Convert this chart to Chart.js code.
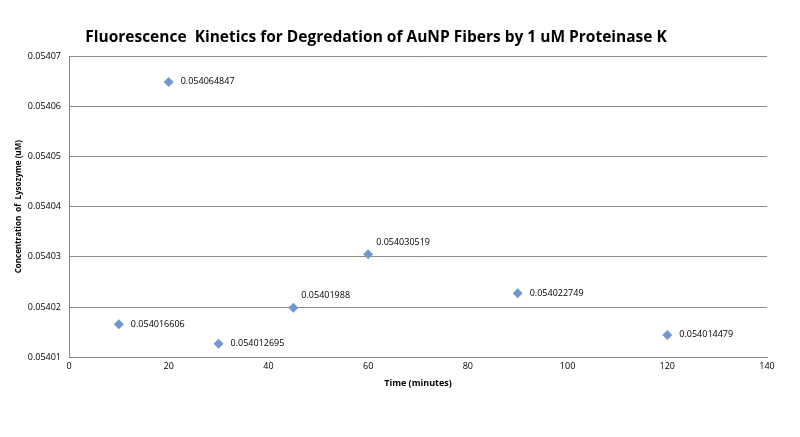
<!DOCTYPE html>
<html>
<head>
<meta charset="utf-8">
<script src="https://cdn.jsdelivr.net/npm/chart.js@4.4.1/dist/chart.umd.min.js"></script>
<style>
  html, body { margin: 0; padding: 0; background: #fff; }
  #wrap { position: relative; width: 800px; height: 437px; }
</style>
</head>
<body>
<div id="wrap"><canvas id="chart"></canvas></div>
<script>
// time points (minutes) and measured concentrations
const times = [10, 20, 30, 45, 60, 90, 120];
const concentrations = [0.054016606, 0.054064847, 0.054012695, 0.05401988, 0.054030519, 0.054022749, 0.054014479];
const labelTexts = ["0.054016606", "0.054064847", "0.054012695", "0.05401988", "0.054030519", "0.054022749", "0.054014479"];
// labels that sit above the point instead of beside it
const labelAbove = [false, false, false, true, true, false, false];
const chartTitle = "Fluorescence  Kinetics for Degredation of AuNP Fibers by 1 uM Proteinase K";

const points = times.map((t, i) => ({ x: t, y: concentrations[i] }));

// title sits a little left of centre, like the original spreadsheet chart
const titlePlugin = {
  id: "titlePlugin",
  afterDraw(chart) {
    const { ctx } = chart;
    ctx.save();
    ctx.font = "bold 15.5px 'Open Sans', sans-serif";
    ctx.fillStyle = "#000";
    ctx.textAlign = "center";
    ctx.textBaseline = "middle";
    ctx.fillText(chartTitle, 376, 38);
    ctx.restore();
  }
};

// draws the value labels next to each diamond
const valueLabels = {
  id: "valueLabels",
  afterDatasetsDraw(chart) {
    const { ctx } = chart;
    const meta = chart.getDatasetMeta(0);
    ctx.save();
    ctx.font = "9px 'Open Sans', sans-serif";
    ctx.fillStyle = "#000";
    ctx.textBaseline = "middle";
    ctx.textAlign = "left";
    meta.data.forEach((pt, i) => {
      if (labelAbove[i]) {
        ctx.fillText(labelTexts[i], pt.x + 8, pt.y - 12);
      } else {
        ctx.fillText(labelTexts[i], pt.x + 12, pt.y);
      }
    });
    ctx.restore();
  }
};

new Chart(document.getElementById("chart"), {
  type: "scatter",
  data: {
    datasets: [{
      data: points,
      pointStyle: "rectRot",
      pointRadius: 5,
      pointHoverRadius: 5,
      backgroundColor: "#7097cf",
      borderColor: "#7097cf",
      borderWidth: 0
    }]
  },
  options: {
    responsive: true,
    maintainAspectRatio: false,
    animation: false,
    layout: { padding: { left: 14, right: 33, top: 56, bottom: 48 } },
    plugins: {
      legend: { display: false },
      tooltip: { enabled: false },
      title: { display: false }
    },
    scales: {
      x: {
        type: "linear",
        min: 0,
        max: 140,
        ticks: { stepSize: 20, color: "#000", font: { family: "'Open Sans', sans-serif", size: 9 }, padding: 4 },
        grid: { display: false, drawTicks: false },
        border: { color: "#888", width: 1 },
        title: {
          display: true,
          text: "Time (minutes)",
          color: "#000",
          font: { family: "'Open Sans', sans-serif", size: 9, weight: "bold" },
          padding: { top: 2, bottom: 0 }
        }
      },
      y: {
        min: 0.05401,
        max: 0.05407,
        ticks: {
          stepSize: 0.00001,
          color: "#000",
          font: { family: "'Open Sans', sans-serif", size: 9 },
          padding: 8,
          callback: v => v.toFixed(5)
        },
        grid: { color: "#8c8c8c", drawTicks: false },
        border: { color: "#888", width: 1 },
        title: {
          display: true,
          text: "Concentration  of  Lysozyme (uM)",
          color: "#000",
          font: { family: "'Open Sans', sans-serif", size: 8, weight: "bold" },
          padding: { top: 0, bottom: 4 }
        },
        afterFit(scale) { scale.width = 55; }
      }
    }
  },
  plugins: [valueLabels, titlePlugin]
});
</script>
</body>
</html>
